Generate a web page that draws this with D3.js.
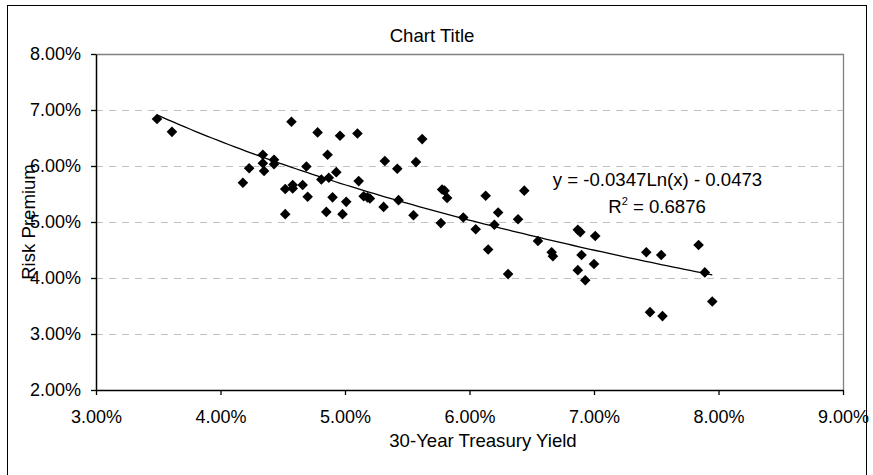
<!DOCTYPE html>
<html>
<head>
<meta charset="utf-8">
<script src="https://cdn.jsdelivr.net/npm/d3@7"></script>
<style>
  html, body { margin: 0; padding: 0; background: #fff; }
  svg text { font-family: "Liberation Sans", Arial, sans-serif; fill: #000; }
</style>
</head>
<body>
<svg id="chart" width="873" height="475"></svg>
<script>
// 30-year Treasury yield (%) and the matching risk premium (%)
const treasuryYield = [
  3.49, 3.61, 4.18, 4.23, 4.34, 4.34, 4.35, 4.43, 4.43, 4.52,
  4.52, 4.57, 4.58, 4.58, 4.66, 4.69, 4.70, 4.78, 4.81, 4.85,
  4.86, 4.87, 4.90, 4.93, 4.96, 4.98, 5.01, 5.10, 5.11, 5.15,
  5.20, 5.18, 5.31, 5.32, 5.42, 5.43, 5.55, 5.57, 5.62, 5.77,
  5.78, 5.80, 5.82, 5.95, 6.05, 6.13, 6.15, 6.20, 6.23, 6.31,
  6.39, 6.44, 6.55, 6.66, 6.67, 6.87, 6.89, 6.87, 6.90, 6.93,
  7.00, 7.01, 7.42, 7.45, 7.54, 7.55, 7.84, 7.89, 7.95
];
const riskPremium = [
  6.84, 6.61, 5.70, 5.96, 6.20, 6.05, 5.91, 6.11, 6.03, 5.59,
  5.14, 6.79, 5.60, 5.66, 5.66, 5.99, 5.45, 6.60, 5.76, 5.18,
  6.20, 5.79, 5.44, 5.89, 6.54, 5.14, 5.36, 6.58, 5.73, 5.46,
  5.42, 5.44, 5.27, 6.09, 5.95, 5.39, 5.12, 6.07, 6.48, 4.98,
  5.58, 5.56, 5.43, 5.08, 4.87, 5.47, 4.51, 4.95, 5.17, 4.07,
  5.05, 5.56, 4.66, 4.46, 4.39, 4.86, 4.82, 4.14, 4.41, 3.96,
  4.25, 4.75, 4.46, 3.39, 4.41, 3.32, 4.59, 4.10, 3.58
];
const xTicks = [3, 4, 5, 6, 7, 8, 9];
const yTicks = [2, 3, 4, 5, 6, 7, 8];
// Logarithmic trend line: y = a*ln(x) + b (x, y as fractions)
const trendCoef = { a: -0.0347, b: -0.0473 };
const trendLabel = "y = -0.0347Ln(x) - 0.0473";
const rSquared = "0.6876";

const svg = d3.select("#chart");
const plot = { left: 96, right: 843, top: 54, bottom: 390 };

const x = d3.scaleLinear().domain([3, 9]).range([plot.left, plot.right]);
const y = d3.scaleLinear().domain([2, 8]).range([plot.bottom, plot.top]);
const fmt = d => d.toFixed(2) + "%";
const labelSize = 18.6;

// chart border
svg.append("rect")
  .attr("x", 7.5).attr("y", 5.5)
  .attr("width", 859).attr("height", 480)
  .attr("fill", "#fff").attr("stroke", "#000").attr("stroke-width", 1);

// horizontal gridlines
svg.append("g").selectAll("line")
  .data(yTicks.filter(t => t > 2 && t < 8))
  .join("line")
  .attr("x1", plot.left).attr("x2", plot.right)
  .attr("y1", d => Math.round(y(d)) + 0.5).attr("y2", d => Math.round(y(d)) + 0.5)
  .attr("stroke", "#c0c0c0").attr("stroke-width", 1)
  .attr("stroke-dasharray", "7,6");

// plot frame (top and right)
svg.append("path")
  .attr("d", `M${plot.left},${plot.top + 0.5}H${plot.right + 0.5}V${plot.bottom}`)
  .attr("fill", "none").attr("stroke", "#808080").attr("stroke-width", 1.3);

// axes
const xAxis = svg.append("g")
  .attr("transform", `translate(0,${plot.bottom})`)
  .call(d3.axisBottom(x).tickValues(xTicks).tickFormat(fmt).tickSize(5).tickSizeOuter(0).tickPadding(15));
const yAxis = svg.append("g")
  .attr("transform", `translate(${plot.left},0)`)
  .call(d3.axisLeft(y).tickValues(yTicks).tickFormat(fmt).tickSize(5).tickSizeOuter(0).tickPadding(10));
[xAxis, yAxis].forEach(g => {
  g.select(".domain").attr("stroke", "#000").attr("stroke-width", 1.5);
  g.selectAll(".tick line").attr("stroke", "#000").attr("stroke-width", 1.3);
  g.selectAll(".tick text").attr("font-size", 18).attr("font-family", "Liberation Sans, Arial, sans-serif");
});

// trend line
const xs = d3.extent(treasuryYield);
const trendPts = d3.range(0, 101).map(i => {
  const xv = xs[0] + (xs[1] - xs[0]) * i / 100;
  const yv = (trendCoef.a * Math.log(xv / 100) + trendCoef.b) * 100;
  return [x(xv), y(yv)];
});
svg.append("path")
  .attr("d", d3.line()(trendPts))
  .attr("fill", "none").attr("stroke", "#000").attr("stroke-width", 1.3);

// markers
const diamond = "M0,-5.3L5.3,0L0,5.3L-5.3,0Z";
svg.append("g").selectAll("path")
  .data(treasuryYield.map((v, i) => [v, riskPremium[i]]))
  .join("path")
  .attr("d", diamond)
  .attr("transform", d => `translate(${x(d[0])},${y(d[1])})`)
  .attr("fill", "#000");

// title and axis titles
svg.append("text").attr("x", 432).attr("y", 42)
  .attr("text-anchor", "middle").attr("font-size", labelSize).text("Chart Title");
svg.append("text").attr("x", 483).attr("y", 447)
  .attr("text-anchor", "middle").attr("font-size", labelSize).text("30-Year Treasury Yield");
svg.append("text")
  .attr("transform", `translate(35,${(plot.top + plot.bottom) / 2}) rotate(-90)`)
  .attr("text-anchor", "middle").attr("font-size", labelSize).text("Risk Premium");

// trend equation
const eq = svg.append("text").attr("text-anchor", "middle").attr("font-size", labelSize);
eq.append("tspan").attr("x", 657.5).attr("y", 186).text(trendLabel);
const r2 = svg.append("text").attr("x", 657).attr("y", 213)
  .attr("text-anchor", "middle").attr("font-size", labelSize);
r2.append("tspan").text("R");
r2.append("tspan").attr("font-size", 11).attr("dy", -8).text("2");
r2.append("tspan").attr("dy", 8).text(" = " + rSquared);
</script>
</body>
</html>
